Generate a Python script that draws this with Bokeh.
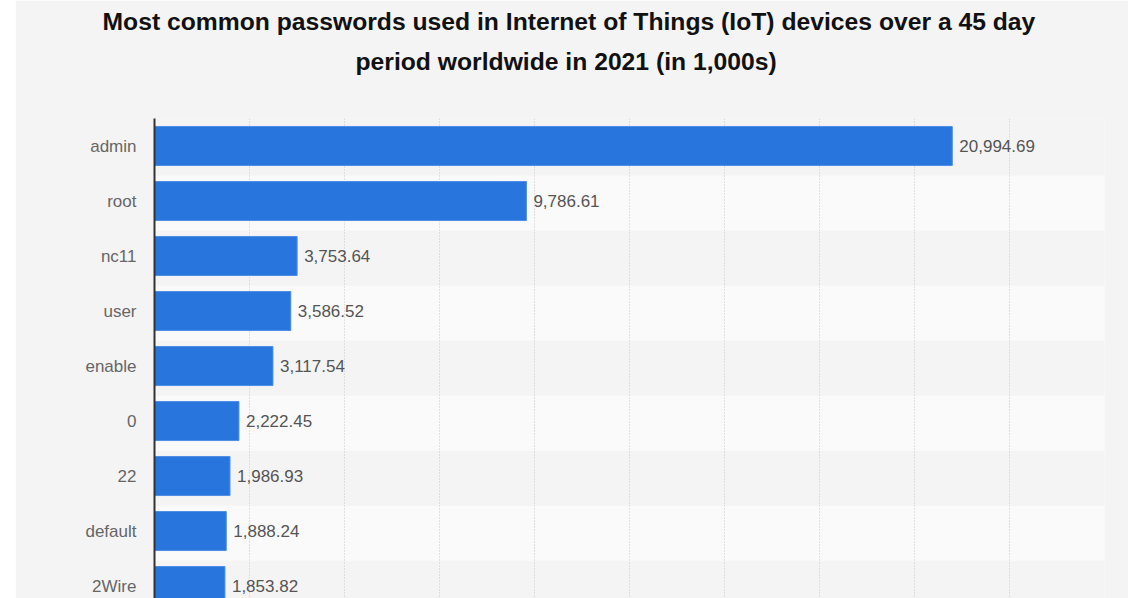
from bokeh.plotting import figure
from bokeh.models import Range1d, FixedTicker, Title, ColumnDataSource
from bokeh.core.properties import value
from bokeh.embed import file_html
from bokeh.resources import INLINE

passwords = ["admin", "root", "nc11", "user", "enable", "0", "22", "default", "2Wire"]
counts = [20994.69, 9786.61, 3753.64, 3586.52, 3117.54, 2222.45, 1986.93, 1888.24, 1853.82]
x_ticks = [0, 2500, 5000, 7500, 10000, 12500, 15000, 17500, 20000, 22500, 25000]

FONT = "Liberation Sans"
rows = list(range(len(passwords)))
labels = [f"{v:,.2f}" for v in counts]

p = figure(width=1113, height=598, output_backend="svg", toolbar_location=None,
           x_range=Range1d(x_ticks[0], x_ticks[-1]), y_range=Range1d(8.227, -0.5),
           min_border_left=139, min_border_right=24, min_border_top=118, min_border_bottom=0,
           margin=(0, 0, 0, 15))
p.background_fill_color = "#f4f4f4"
p.border_fill_color = "#f4f4f4"
p.outline_line_color = None

# alternating row bands
band_rows = [r for r in rows if r % 2 == 1]
bands = p.hbar(y=[r + 0.04 for r in band_rows], left=x_ticks[0], right=x_ticks[-1], height=1.0,
               fill_color="#fafafa", line_color=None)
bands.level = "image"

src = ColumnDataSource(dict(y=rows, v=counts, lab=labels))
p.hbar(y="y", right="v", left=0, height=0.71, source=src,
       fill_color="#2876dd", line_color="#4f8fe4", line_width=1)
p.text(x="v", y="y", text="lab", source=src, x_offset=7, text_baseline="middle",
       text_align="left", text_font=value(FONT), text_font_size="17px", text_color="#555555")

p.xaxis.visible = False
p.xgrid.ticker = FixedTicker(ticks=x_ticks)
p.xgrid.grid_line_color = "#c8c8c8"
p.xgrid.grid_line_dash = "1 2"
p.xgrid.grid_line_width = 1
p.ygrid.grid_line_color = None

ya = p.yaxis[0]
ya.ticker = FixedTicker(ticks=rows)
ya.major_label_overrides = {r: n for r, n in zip(rows, passwords)}
ya.major_tick_line_color = None
ya.minor_tick_line_color = None
ya.axis_line_color = "#333333"
ya.axis_line_width = 2
ya.major_label_standoff = 12
ya.major_label_text_font = FONT
ya.major_label_text_font_size = "17px"
ya.major_label_text_color = "#666666"

t2 = Title(text="period worldwide in 2021 (in 1,000s)", align="left", offset=201,
           text_font=FONT, text_font_size="24.7px", text_font_style="bold", text_color="#111111",
           standoff=88)
t1 = Title(text="Most common passwords used in Internet of Things (IoT) devices over a 45 day",
           align="left", offset=-52, text_font=FONT, text_font_size="24.7px",
           text_font_style="bold", text_color="#111111", standoff=-66)
p.add_layout(t2, "above")
p.add_layout(t1, "above")

open("out.html", "w").write(file_html(p, INLINE))
